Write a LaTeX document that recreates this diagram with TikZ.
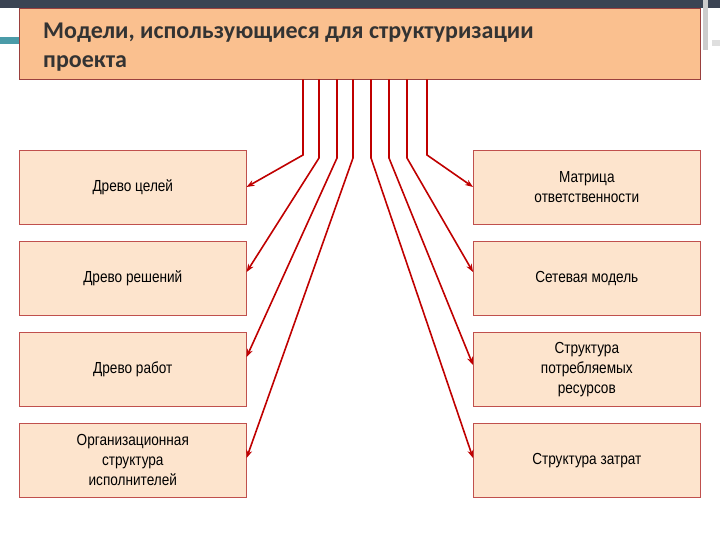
\documentclass[tikz,border=0pt]{standalone}
\usepackage{fontspec}
\setmainfont[FakeStretch=0.85]{Liberation Sans}
\newfontfamily\hfont{Carlito}
\usetikzlibrary{arrows.meta}
\definecolor{boxfill}{HTML}{FDE4CD}
\definecolor{boxline}{HTML}{C0504D}
\definecolor{hfill}{HTML}{FAC08F}
\definecolor{arr}{HTML}{C00000}
\definecolor{band}{HTML}{3B4453}
\definecolor{teal}{HTML}{4A9BA8}
\tikzset{
  mbox/.style={draw=boxline, fill=boxfill, line width=0.6pt, minimum width=227pt, minimum height=74pt, inner sep=2pt, align=center, font=\fontsize{16}{20}\selectfont, anchor=north west},
  conn/.style={draw=arr, line width=1.6pt, -{Stealth[length=8pt,width=6pt]}},
}
\begin{document}
\begin{tikzpicture}[x=1pt,y=-1pt]
\useasboundingbox (0,0) rectangle (720,540);
\fill[white] (0,0) rectangle (720,540);
\fill[band] (0,0) rectangle (720,8);
\fill[teal] (0,37) rectangle (20,44);
\fill[gray!40] (703,0) rectangle (708,50);
\fill[gray!25] (712,40) rectangle (720,46);
\node[draw=boxline!80!black, fill=hfill, line width=0.8pt, minimum width=681pt, minimum height=71pt, anchor=north west, inner sep=0pt] (h) at (19,8) {};
\node[anchor=north west, align=left, font=\hfont\bfseries\fontsize{24}{29}\selectfont, text=black!80, inner sep=0pt] (ht) at (43,23) {Модели, использующиеся для структуризации\\проекта};
\node[mbox] (l1) at (19,150) {Древо целей};
\node[mbox] (l2) at (19,241) {Древо решений};
\node[mbox] (l3) at (19,332) {Древо работ};
\node[mbox] (l4) at (19,423) {Организационная\\структура\\исполнителей};
\node[mbox] (r1) at (473,150) {Матрица\\ответственности};
\node[mbox] (r2) at (473,241) {Сетевая модель};
\node[mbox] (r3) at (473,332) {Структура\\потребляемых\\ресурсов};
\node[mbox] (r4) at (473,423) {Структура затрат};
\foreach \n/\x/\yb/\ty in {l1/303/155/187, l2/319/158/272, l3/337/158/357, l4/353/158/458}{
  \coordinate (s\n) at (\x,79.5);
  \coordinate (b\n) at (\x,\yb);
  \draw[conn] (s\n) -- (b\n) -- (\n.east |- 0,\ty);
}
\foreach \n/\x/\yb/\ty in {r1/427/155/187, r2/407/158/272, r3/389/158/365, r4/371/158/458}{
  \coordinate (s\n) at (\x,79.5);
  \coordinate (b\n) at (\x,\yb);
  \draw[conn] (s\n) -- (b\n) -- (\n.west |- 0,\ty);
}
\end{tikzpicture}
\end{document}
